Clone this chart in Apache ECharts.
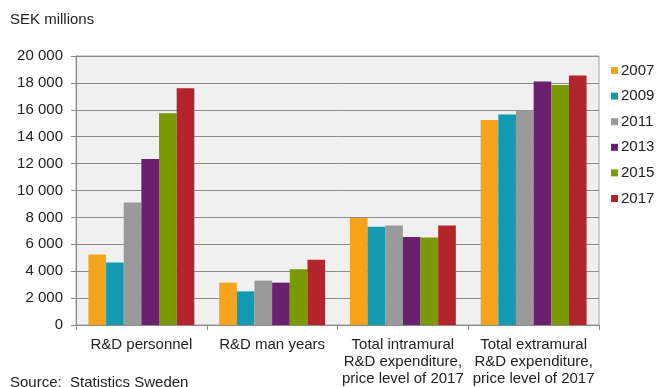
<!DOCTYPE html>
<html>
<head>
<meta charset="utf-8">
<script src="https://cdn.jsdelivr.net/npm/echarts@6/dist/echarts.min.js"></script>
<style>
  html, body { margin: 0; padding: 0; background: #fff; }
  #chart { width: 660px; height: 387px; }
</style>
</head>
<body>
<div id="chart"></div>
<script>
// R&D in Sweden, SEK millions, by survey year
const categories = [
  'R&D personnel',
  'R&D man years',
  'Total intramural\nR&D expenditure,\nprice level of 2017',
  'Total extramural\nR&D expenditure,\nprice level of 2017'
];
const years = ['2007', '2009', '2011', '2013', '2015', '2017'];
const v2007 = [5250, 3150, 7950, 15250];
const v2009 = [4650, 2500, 7300, 15650];
const v2011 = [9100, 3300, 7400, 15950];
const v2013 = [12350, 3150, 6550, 18100];
const v2015 = [15750, 4150, 6500, 17850];
const v2017 = [17600, 4850, 7400, 18550];
const yTicks = [0, 2000, 4000, 6000, 8000, 10000, 12000, 14000, 16000, 18000, 20000];

const seriesValues = [v2007, v2009, v2011, v2013, v2015, v2017];
const palette = ['#F5A31A', '#139AB0', '#9A9A9A', '#6B1F6F', '#7A9A01', '#B2252C'];
const font = 'Arial, "Liberation Sans", sans-serif';

const chart = echarts.init(document.getElementById('chart'));
chart.setOption({
  animation: false,
  color: palette,
  textStyle: { fontFamily: font },
  grid: {
    left: 76, right: 61, top: 56, bottom: 59,
    show: true, backgroundColor: '#F0F0F0', borderColor: '#A0A0A0', borderWidth: 1
  },
  legend: {
    orient: 'vertical',
    left: 611, top: 59,
    padding: [3, 0, 3, 0],
    itemWidth: 7, itemHeight: 7, itemGap: 8.6,
    icon: 'rect',
    textStyle: { fontSize: 15, lineHeight: 17, color: '#222', fontFamily: font, padding: [0, 0, 0, -2] },
    data: years
  },
  xAxis: {
    type: 'category',
    data: categories,
    axisLine: { lineStyle: { color: '#8A8A8A' } },
    axisTick: { show: true, length: 5, lineStyle: { color: '#8A8A8A' } },
    axisLabel: { color: '#222', fontSize: 15, lineHeight: 17, margin: 11, interval: 0 }
  },
  yAxis: {
    type: 'value',
    min: yTicks[0], max: yTicks[yTicks.length - 1], interval: 2000,
    axisLine: { show: true, lineStyle: { color: '#8A8A8A' } },
    axisTick: { show: true, length: 5, lineStyle: { color: '#8A8A8A' } },
    splitLine: { lineStyle: { color: '#8C8C8C', width: 1 } },
    axisLabel: {
      color: '#222', fontSize: 15, margin: 13,
      formatter: v => String(v).replace(/\B(?=(\d{3})+(?!\d))/g, ' ')
    }
  },
  series: years.map((y, i) => ({
    name: y,
    type: 'bar',
    data: seriesValues[i],
    barGap: '0%',
    barCategoryGap: '19%'
  })),
  graphic: [
    { type: 'text', left: 10, top: 12, style: { text: 'SEK millions', fontSize: 15, fill: '#222', fontFamily: font } },
    { type: 'text', left: 10, top: 375, style: { text: 'Source:  Statistics Sweden', fontSize: 15, fill: '#222', fontFamily: font } }
  ]
});
</script>
</body>
</html>
